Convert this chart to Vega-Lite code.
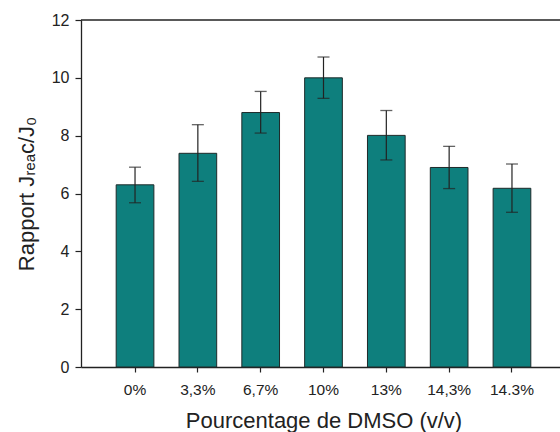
{
  "$schema": "https://vega.github.io/schema/vega-lite/v6.json",
  "width": 479,
  "height": 347,
  "autosize": "none",
  "padding": {"left": 81, "top": 20, "right": 0, "bottom": 65},
  "background": "white",
  "config": {
    "view": {"stroke": null},
    "font": "Liberation Sans",
    "axis": {"grid": false, "domainColor": "#222", "tickColor": "#222", "labelColor": "#222", "titleColor": "#222", "labelFont": "Liberation Sans", "titleFont": "Liberation Sans", "titleFontWeight": "normal", "domainWidth": 1.3, "tickWidth": 1.2}
  },
  "data": {
    "values": [
      {"pct": "0%", "ratio": 6.3, "lo": 5.68, "hi": 6.91},
      {"pct": "3,3%", "ratio": 7.39, "lo": 6.42, "hi": 8.38},
      {"pct": "6,7%", "ratio": 8.8, "lo": 8.09, "hi": 9.53},
      {"pct": "10%", "ratio": 10.0, "lo": 9.29, "hi": 10.72},
      {"pct": "13%", "ratio": 8.01, "lo": 7.16, "hi": 8.87},
      {"pct": "14,3%", "ratio": 6.9, "lo": 6.17, "hi": 7.63},
      {"pct": "14.3%", "ratio": 6.18, "lo": 5.35, "hi": 7.02}
    ]
  },
  "encoding": {
    "x": {
      "field": "pct", "type": "nominal", "sort": null,
      "scale": {"range": [0, 485], "paddingInner": 0.4, "paddingOuter": 0.56},
      "axis": {"labelAngle": 0, "labelFontSize": 15.5, "tickSize": 5, "labelPadding": 10, "title": "Pourcentage de DMSO (v/v)", "titleFontSize": 22, "titlePadding": 13}
    }
  },
  "layer": [
    {
      "mark": {"type": "bar", "color": "#0e7f7d", "stroke": "#1e2a2a", "strokeWidth": 1},
      "encoding": {
        "y": {"field": "ratio", "type": "quantitative",
          "scale": {"domain": [0, 12], "nice": false},
          "axis": {"values": [0, 2, 4, 6, 8, 10, 12], "labelFontSize": 16, "tickSize": 6, "labelPadding": 6, "title": "Rapport Jᵣₑₐc/J₀", "titleFontSize": 22, "titlePadding": 13}
        }
      }
    },
    {
      "mark": {"type": "rule", "color": "#222", "strokeWidth": 1.2},
      "encoding": {"y": {"field": "lo", "type": "quantitative"}, "y2": {"field": "hi"}}
    },
    {
      "mark": {"type": "tick", "color": "#222", "size": 12, "thickness": 1.3},
      "encoding": {"y": {"field": "lo", "type": "quantitative"}}
    },
    {
      "mark": {"type": "tick", "color": "#222", "size": 12, "thickness": 1.3},
      "encoding": {"y": {"field": "hi", "type": "quantitative"}}
    },
    {
      "data": {"values": [{"top": 12}]},
      "mark": {"type": "rule", "color": "#222", "strokeWidth": 1.3},
      "encoding": {"y": {"field": "top", "type": "quantitative"}, "x": null}
    }
  ]
}
